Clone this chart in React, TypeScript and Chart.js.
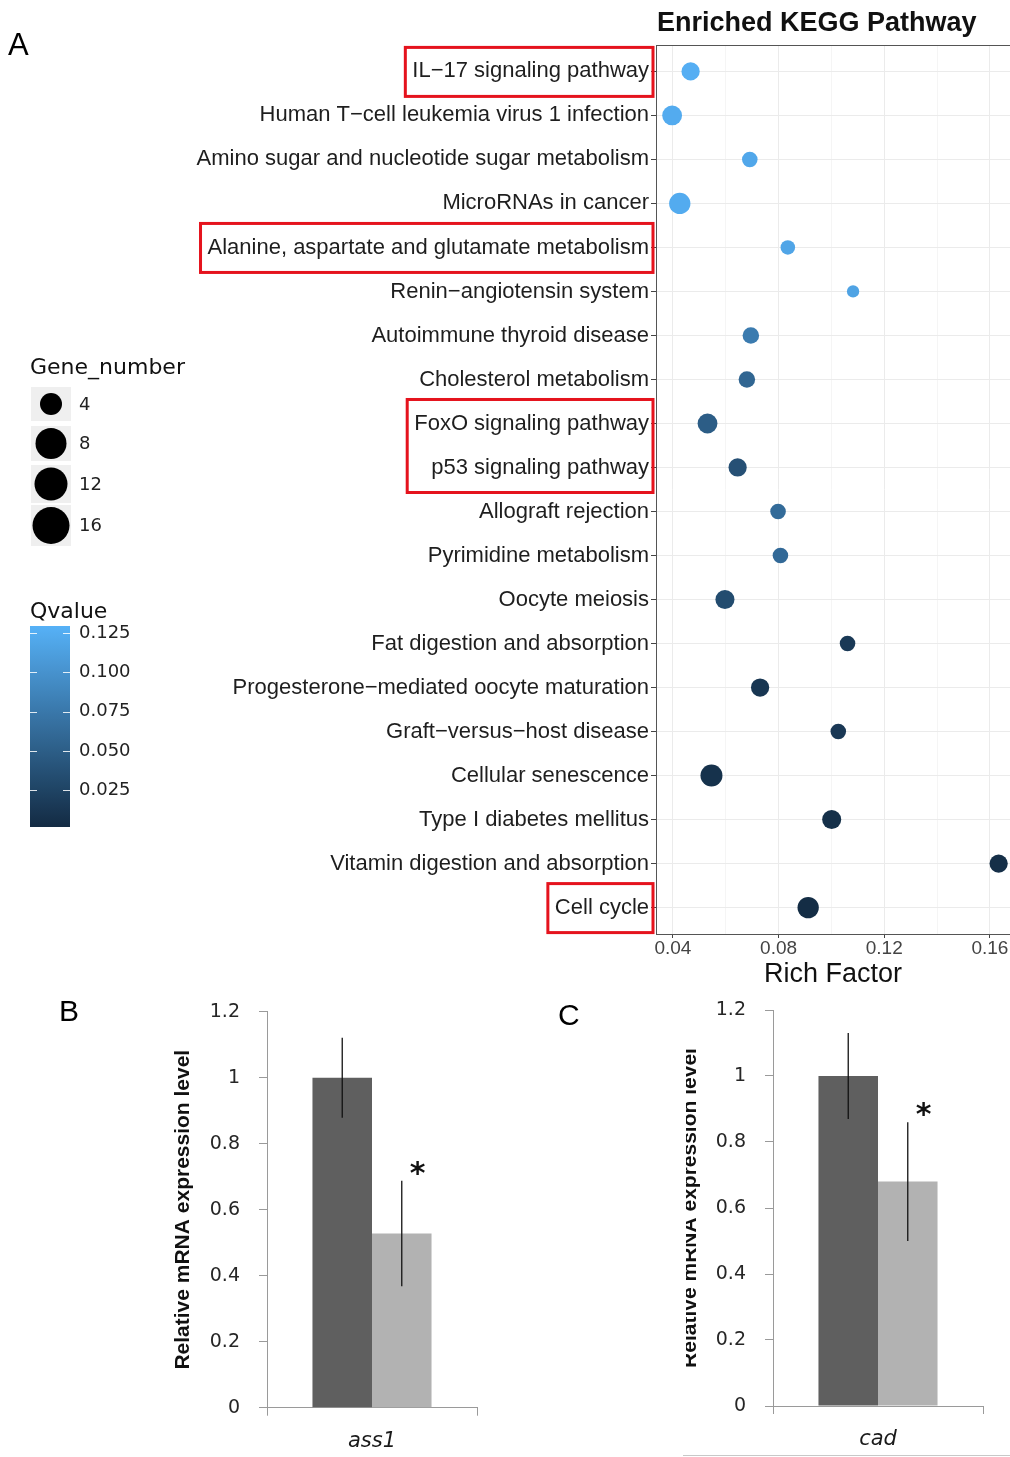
import React, { useEffect, useRef } from 'react';
import { Chart, registerables } from 'chart.js';

Chart.register(...registerables);

// ---------------- Panel A data ----------------
const pathways = [
  'IL−17 signaling pathway',
  'Human T−cell leukemia virus 1 infection',
  'Amino sugar and nucleotide sugar metabolism',
  'MicroRNAs in cancer',
  'Alanine, aspartate and glutamate metabolism',
  'Renin−angiotensin system',
  'Autoimmune thyroid disease',
  'Cholesterol metabolism',
  'FoxO signaling pathway',
  'p53 signaling pathway',
  'Allograft rejection',
  'Pyrimidine metabolism',
  'Oocyte meiosis',
  'Fat digestion and absorption',
  'Progesterone−mediated oocyte maturation',
  'Graft−versus−host disease',
  'Cellular senescence',
  'Type I diabetes mellitus',
  'Vitamin digestion and absorption',
  'Cell cycle',
];
const richFactor = [
  0.0467, 0.0397, 0.0691, 0.0426, 0.0835, 0.1082, 0.0695, 0.068, 0.0531, 0.0645,
  0.0798, 0.0807, 0.0597, 0.1061, 0.073, 0.1026, 0.0546, 0.1001, 0.1633, 0.0912,
];
const geneNumber = [11, 13, 8, 15, 7, 5, 9, 9, 13, 11, 8, 8, 12, 8, 11, 8, 16, 12, 11, 15];
const qValue = [
  0.127, 0.124, 0.12, 0.124, 0.118, 0.116, 0.078, 0.058, 0.049, 0.037,
  0.063, 0.061, 0.033, 0.015, 0.012, 0.014, 0.008, 0.006, 0.005, 0.003,
];
const highlightedGroups = [[0], [4], [8, 9], [19]];
const richTicks = [0.04, 0.06, 0.08, 0.1, 0.12, 0.14, 0.16];
const geneLegendValues = [4, 8, 12, 16];
const qLegendTicks = [0.125, 0.1, 0.075, 0.05, 0.025];
const qLimits = [0.0015, 0.1295];

// ---------------- Panels B / C data ----------------
const groupNames = ['Control', 'Treated'];
const genesB = ['ass1'];
const valuesB = [1.0, 0.528];
const errorsB = [0.121, 0.16];
const genesC = ['cad'];
const valuesC = [1.0, 0.68];
const errorsC = [0.13, 0.18];
const expressionTicks = [0, 0.2, 0.4, 0.6, 0.8, 1.0, 1.2];

// ---------------- styles ----------------
const LOW = [19, 43, 67];
const HIGH = [86, 177, 247];
function qColor(q: number) {
  let t = (q - qLimits[0]) / (qLimits[1] - qLimits[0]);
  t = Math.max(0, Math.min(1, t));
  const c = LOW.map((l, i) => Math.round(l + (HIGH[i] - l) * t));
  return `rgb(${c[0]},${c[1]},${c[2]})`;
}
function geneRadius(n: number) {
  return 2.75 * Math.sqrt(n);
}
const SANS = '"Liberation Sans", Arial, Helvetica, sans-serif';
const DEJAVU = '"DejaVu Sans", sans-serif';
const Y_LABEL_FONT = `22px ${SANS}`;
const AXIS_GREY = '#9a9a9a';
const barColors = ['#5f5f5f', '#b2b2b2'];
const legendKeyRadius = [11, 15.5, 16.5, 18.5];
const legendKeyBoxes = [
  [387, 34],
  [426, 35],
  [465, 38],
  [505, 41],
];

function zeroPad(s: any) {
  s.paddingLeft = 0;
  s.paddingRight = 0;
  s.paddingTop = 0;
  s.paddingBottom = 0;
}

function PanelA() {
  const ref = useRef<HTMLCanvasElement>(null);
  useEffect(() => {
    const canvas = ref.current!;
    const panelPlugin = {
      id: 'panelA',
      afterDraw(chart: any) {
        const { ctx, chartArea, scales } = chart;
        const ys = scales.y;
        ctx.save();
        // top border of panel
        ctx.strokeStyle = '#555';
        ctx.lineWidth = 1;
        ctx.beginPath();
        ctx.moveTo(chartArea.left, Math.round(chartArea.top) + 0.5);
        ctx.lineTo(chartArea.right, Math.round(chartArea.top) + 0.5);
        ctx.stroke();

        // title
        ctx.fillStyle = '#111';
        ctx.textAlign = 'left';
        ctx.textBaseline = 'alphabetic';
        ctx.font = `bold 27px ${SANS}`;
        ctx.fillText('Enriched KEGG Pathway', chartArea.left + 1, 31);
        // panel letter
        ctx.font = `31px ${SANS}`;
        ctx.fillStyle = '#000';
        ctx.fillText('A', 8, 55);

        // red highlight boxes
        ctx.font = Y_LABEL_FONT;
        const labelRight = chartArea.left - 7;
        ctx.strokeStyle = '#e5131d';
        ctx.lineWidth = 3;
        for (const grp of highlightedGroups) {
          const w = Math.max(...grp.map((i) => ctx.measureText(pathways[i]).width));
          const top = ys.getPixelForValue(grp[0]) - 24;
          const bottom = ys.getPixelForValue(grp[grp.length - 1]) + 25;
          const left = labelRight - w - 7;
          const right = chartArea.left - 3;
          ctx.strokeRect(left, top, right - left, bottom - top);
        }

        // Gene_number legend
        ctx.fillStyle = '#111';
        ctx.font = `22px ${DEJAVU}`;
        ctx.textBaseline = 'alphabetic';
        ctx.fillText('Gene_number', 30, 374);
        geneLegendValues.forEach((g, i) => {
          const [top, h] = legendKeyBoxes[i];
          ctx.fillStyle = '#efefef';
          ctx.fillRect(31, top, 40, h);
          ctx.fillStyle = '#000';
          ctx.beginPath();
          ctx.arc(51, top + h / 2, legendKeyRadius[i], 0, Math.PI * 2);
          ctx.fill();
          ctx.fillStyle = '#222';
          ctx.font = `18px ${DEJAVU}`;
          ctx.textBaseline = 'middle';
          ctx.fillText(String(g), 79, top + h / 2 + 1);
        });

        // Qvalue legend
        ctx.textBaseline = 'alphabetic';
        ctx.fillStyle = '#111';
        ctx.font = `22px ${DEJAVU}`;
        ctx.fillText('Qvalue', 30, 618);
        const barTop = 626;
        const barBottom = 827;
        const grad = ctx.createLinearGradient(0, barTop, 0, barBottom);
        for (let k = 0; k <= 10; k++) {
          const q = qLimits[1] - (k / 10) * (qLimits[1] - qLimits[0]);
          grad.addColorStop(k / 10, qColor(q));
        }
        ctx.fillStyle = grad;
        ctx.fillRect(30, barTop, 40, barBottom - barTop);
        ctx.strokeStyle = 'rgba(255,255,255,0.85)';
        ctx.lineWidth = 1;
        ctx.font = `18px ${DEJAVU}`;
        ctx.textBaseline = 'middle';
        for (const q of qLegendTicks) {
          const y =
            barBottom - ((q - qLimits[0]) / (qLimits[1] - qLimits[0])) * (barBottom - barTop);
          const yy = Math.round(y) + 0.5;
          ctx.beginPath();
          ctx.moveTo(30, yy);
          ctx.lineTo(37, yy);
          ctx.moveTo(63, yy);
          ctx.lineTo(70, yy);
          ctx.stroke();
          ctx.fillStyle = '#222';
          ctx.fillText(q.toFixed(3), 79, y);
        }
        ctx.restore();
      },
    };

    const isMajor = (v: number) => {
      const r = v / 0.04;
      return Math.abs(r - Math.round(r)) < 1e-6;
    };

    const chart = new Chart(canvas, {
      type: 'bubble',
      data: {
        datasets: [
          {
            data: pathways.map((_, i) => ({
              x: richFactor[i],
              y: i,
              r: geneRadius(geneNumber[i]),
            })),
            backgroundColor: qValue.map(qColor),
            borderWidth: 0,
          },
        ],
      },
      options: {
        responsive: false,
        animation: false,
        events: [],
        layout: { autoPadding: false, padding: { left: 0, right: 0, top: 45, bottom: 0 } },
        plugins: { legend: { display: false }, tooltip: { enabled: false } },
        scales: {
          x: {
            type: 'linear',
            position: 'bottom',
            min: 0.0336,
            max: 0.1676,
            afterBuildTicks: (s: any) => {
              s.ticks = richTicks.map((v) => ({ value: v }));
            },
            ticks: {
              autoSkip: false,
              maxRotation: 0,
              padding: -1,
              color: '#444',
              font: { family: SANS, size: 19 },
              callback: (v: any) => (isMajor(Number(v)) ? Number(v).toFixed(2) : ''),
            },
            grid: {
              color: (c: any) => (isMajor(c.tick ? c.tick.value : 0) ? '#ebebeb' : '#f5f5f5'),
              tickColor: (c: any) =>
                isMajor(c.tick ? c.tick.value : 0) ? '#444' : 'rgba(0,0,0,0)',
              tickLength: 4,
            },
            border: { color: '#555', width: 1 },
            title: {
              display: true,
              text: 'Rich Factor',
              color: '#111',
              font: { family: SANS, size: 27 },
              padding: { top: 0, bottom: 8.8 },
            },
            afterFit: (s: any) => {
              s.height = 66;
              zeroPad(s);
            },
          },
          y: {
            type: 'linear',
            min: -0.6,
            max: 19.6,
            reverse: true,
            afterBuildTicks: (s: any) => {
              s.ticks = pathways.map((_, i) => ({ value: i }));
            },
            ticks: {
              autoSkip: false,
              padding: 2,
              color: '#1e1e1e',
              font: { family: SANS, size: 22 },
              callback: (v: any) => pathways[Math.round(v)],
            },
            grid: { color: '#ebebeb', tickColor: '#444', tickLength: 5 },
            border: { color: '#555', width: 1 },
            afterFit: (s: any) => {
              s.width = 656;
              zeroPad(s);
            },
          },
        },
      },
      plugins: [panelPlugin],
    } as any);
    return () => chart.destroy();
  }, []);
  return (
    <canvas
      ref={ref}
      width={1010}
      height={1000}
      style={{ position: 'absolute', left: 0, top: 0, width: 1010, height: 1000 }}
    />
  );
}

type BarPanelProps = {
  genes: string[];
  values: number[];
  errors: number[];
  left: number;
  top: number;
  width: number;
  height: number;
  axisWidth: number;
  padRight: number;
  padTop: number;
  bottomHeight: number;
  titlePad: number;
};

function BarPanel(p: BarPanelProps) {
  const ref = useRef<HTMLCanvasElement>(null);
  useEffect(() => {
    const canvas = ref.current!;
    const errorPlugin = {
      id: 'errorBars',
      afterDatasetsDraw(chart: any) {
        const { ctx, scales } = chart;
        const ys = scales.y;
        ctx.save();
        ctx.strokeStyle = '#111';
        ctx.lineWidth = 1.3;
        p.values.forEach((v, i) => {
          const bar = chart.getDatasetMeta(i).data[0];
          const x = bar.x;
          const yTop = ys.getPixelForValue(v + p.errors[i]);
          const yBot = ys.getPixelForValue(v - p.errors[i]);
          ctx.beginPath();
          ctx.moveTo(x, yTop);
          ctx.lineTo(x, yBot);
          ctx.stroke();
        });
        // significance star on the treated bar
        const last = p.values.length - 1;
        const bar = chart.getDatasetMeta(last).data[0];
        const cx = bar.x + 16;
        const cy = ys.getPixelForValue(p.values[last] + p.errors[last]) - 12.5;
        ctx.font = `bold 30px ${DEJAVU}`;
        ctx.fillStyle = '#111';
        ctx.textAlign = 'left';
        ctx.textBaseline = 'alphabetic';
        const m = ctx.measureText('*');
        const inkW = m.actualBoundingBoxRight + m.actualBoundingBoxLeft;
        const bx = cx - inkW / 2 + m.actualBoundingBoxLeft;
        const by = cy + (m.actualBoundingBoxAscent - m.actualBoundingBoxDescent) / 2;
        ctx.fillText('*', bx, by);
        ctx.restore();
      },
    };
    const chart = new Chart(canvas, {
      type: 'bar',
      data: {
        labels: p.genes,
        datasets: p.values.map((v, i) => ({
          label: groupNames[i],
          data: [v],
          backgroundColor: barColors[i],
          borderWidth: 0,
          categoryPercentage: 0.567,
          barPercentage: 1,
        })),
      },
      options: {
        responsive: false,
        animation: false,
        events: [],
        layout: { padding: { left: 0, right: p.padRight, top: p.padTop, bottom: 0 } },
        plugins: { legend: { display: false }, tooltip: { enabled: false } },
        scales: {
          x: {
            grid: {
              display: true,
              drawOnChartArea: false,
              tickLength: 8,
              color: AXIS_GREY,
              tickColor: AXIS_GREY,
            },
            border: { color: AXIS_GREY, width: 1 },
            ticks: {
              color: '#1a1a1a',
              padding: 13,
              font: { family: DEJAVU, size: 21, style: 'italic' },
            },
            afterFit: (s: any) => {
              s.height = p.bottomHeight;
              zeroPad(s);
            },
          },
          y: {
            min: 0,
            max: 1.2,
            afterBuildTicks: (s: any) => {
              s.ticks = expressionTicks.map((v) => ({ value: v }));
            },
            ticks: {
              color: '#262626',
              padding: 19,
              font: { family: DEJAVU, size: 19 },
              callback: (v: any) => String(Math.round(v * 10) / 10),
            },
            grid: {
              drawOnChartArea: false,
              tickLength: 8,
              color: AXIS_GREY,
              tickColor: AXIS_GREY,
            },
            border: { color: AXIS_GREY, width: 1 },
            title: {
              display: true,
              text: 'Relative mRNA expression level',
              color: '#111',
              font: { family: SANS, size: 21, weight: 'bold' },
              padding: { top: p.titlePad, bottom: 0 },
            },
            afterFit: (s: any) => {
              s.width = p.axisWidth;
              zeroPad(s);
            },
          },
        },
      },
      plugins: [errorPlugin],
    } as any);
    return () => chart.destroy();
  }, []);
  return (
    <canvas
      ref={ref}
      width={p.width}
      height={p.height}
      style={{ position: 'absolute', left: p.left, top: p.top, width: p.width, height: p.height }}
    />
  );
}

const letterStyle: React.CSSProperties = {
  position: 'absolute',
  fontFamily: SANS,
  fontSize: 30,
  lineHeight: '30px',
  color: '#000',
};

export default function App() {
  return (
    <div
      style={{
        position: 'absolute',
        left: 0,
        top: 0,
        width: 1010,
        height: 1457,
        background: '#fff',
        overflow: 'hidden',
      }}
    >
      <PanelA />
      <BarPanel
        genes={genesB}
        values={valuesB}
        errors={errorsB}
        left={150}
        top={990}
        width={350}
        height={467}
        axisWidth={117}
        padRight={23}
        padTop={21.7}
        bottomHeight={49.3}
        titlePad={20.4}
      />
      <BarPanel
        genes={genesC}
        values={valuesC}
        errors={errorsC}
        left={686}
        top={990}
        width={324}
        height={467}
        axisWidth={87}
        padRight={27}
        padTop={20}
        bottomHeight={51}
        titlePad={-8.6}
      />
      <div style={{ ...letterStyle, left: 59, top: 996 }}>B</div>
      <div style={{ ...letterStyle, left: 558, top: 1000 }}>C</div>
      <div
        style={{
          position: 'absolute',
          left: 683,
          top: 1455,
          width: 327,
          height: 1,
          background: '#c8c8c8',
        }}
      />
    </div>
  );
}
